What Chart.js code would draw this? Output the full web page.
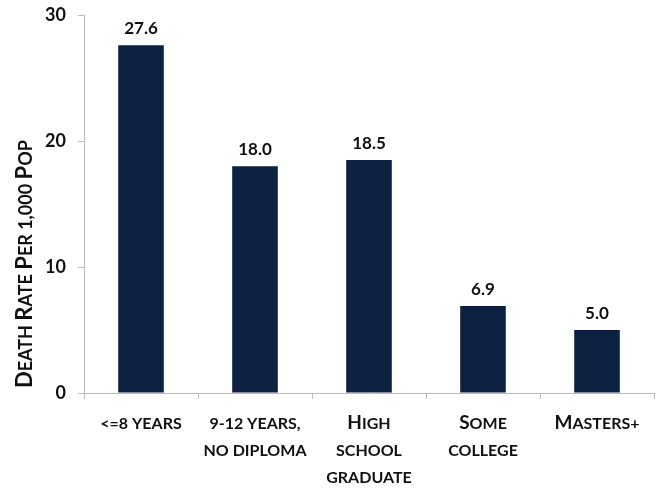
<!DOCTYPE html>
<html>
<head>
<meta charset="utf-8">
<script src="https://cdn.jsdelivr.net/npm/chart.js@4.4.1/dist/chart.umd.min.js"></script>
<style>
  html, body { margin: 0; padding: 0; background: #ffffff; }
  #wrap { width: 666px; height: 489px; position: relative; }
</style>
</head>
<body>
<div id="wrap"><canvas id="deathChart"></canvas></div>
<script>
// education level categories (multi-line labels)
const categories = [
  ['<=8 years'],
  ['9-12 years,', 'no diploma'],
  ['High', 'school', 'graduate'],
  ['Some', 'college'],
  ['Masters+']
];
const deathRates = [27.6, 18.0, 18.5, 6.9, 5.0];
const yTicks = [0, 10, 20, 30];
const yTitle = 'Death Rate Per 1,000 Pop';

const navy = '#0c2040';
const axisGray = '#bdbdbd';
const inkColor = '#111111';
const fontFamily = 'Lato, "Open Sans", sans-serif';

// split text into runs: capitals stay full size, everything else is set as smaller capitals
function smallCapRuns(text) {
  const runs = [];
  for (const ch of text) {
    const big = ch !== ch.toLowerCase();
    const last = runs[runs.length - 1];
    if (last && last.big === big) last.text += ch.toUpperCase();
    else runs.push({ big, text: ch.toUpperCase() });
  }
  return runs;
}

// draws centred small-caps text on the given baseline (in current ctx transform)
function drawSmallCaps(ctx, text, cx, baseline, bigSize, smallSize) {
  const runs = smallCapRuns(text);
  let total = 0;
  runs.forEach(r => {
    ctx.font = '700 ' + (r.big ? bigSize : smallSize) + 'px ' + fontFamily;
    r.width = ctx.measureText(r.text).width;
    total += r.width;
  });
  let x = cx - total / 2;
  runs.forEach(r => {
    ctx.font = '700 ' + (r.big ? bigSize : smallSize) + 'px ' + fontFamily;
    ctx.fillText(r.text, x, baseline);
    x += r.width;
  });
  return total;
}

// category labels, axis title and value labels
const chartText = {
  id: 'chartText',
  afterDraw(chart) {
    const ctx = chart.ctx;
    const area = chart.chartArea;
    const xScale = chart.scales.x;
    ctx.save();
    ctx.fillStyle = inkColor;
    ctx.textAlign = 'left';
    ctx.textBaseline = 'alphabetic';

    categories.forEach((lines, i) => {
      const cx = xScale.getPixelForTick(i);
      lines.forEach((line, j) => {
        drawSmallCaps(ctx, line, cx, area.bottom + 36 + j * 27, 19, 16);
      });
    });

    // rotated axis title, laid out from the bottom of the axis upwards
    ctx.save();
    ctx.translate(32, area.bottom);
    ctx.rotate(-Math.PI / 2);
    const runs = smallCapRuns(yTitle);
    let x = 5;
    runs.forEach(r => {
      ctx.font = '700 ' + (r.big ? 22 : 18) + 'px ' + fontFamily;
      ctx.fillText(r.text, x, 0);
      x += ctx.measureText(r.text).width;
    });
    ctx.restore();

    // value above each bar
    ctx.font = '700 17px ' + fontFamily;
    ctx.textAlign = 'center';
    ctx.textBaseline = 'bottom';
    chart.getDatasetMeta(0).data.forEach((bar, i) => {
      ctx.fillText(deathRates[i].toFixed(1), bar.x, bar.y - 8);
    });
    ctx.restore();
  }
};

new Chart(document.getElementById('deathChart'), {
  type: 'bar',
  data: {
    labels: categories.map(l => l.join(' ')),
    datasets: [{
      data: deathRates,
      backgroundColor: navy,
      borderWidth: 0,
      categoryPercentage: 1,
      barPercentage: 0.4
    }]
  },
  options: {
    responsive: true,
    maintainAspectRatio: false,
    animation: false,
    layout: { padding: { top: 15, right: 12, left: 0, bottom: 0 } },
    plugins: {
      legend: { display: false },
      tooltip: { enabled: false }
    },
    scales: {
      x: {
        grid: { drawOnChartArea: false, tickLength: 6, color: axisGray, offset: true },
        border: { color: axisGray },
        ticks: { display: false },
        afterFit(scale) { scale.height = 96; }
      },
      y: {
        min: 0,
        max: 30,
        afterBuildTicks(scale) {
          scale.ticks = yTicks.map(v => ({ value: v }));
        },
        afterFit(scale) {
          scale.width = 84;
          scale.paddingTop = 0;
          scale.paddingBottom = 0;
        },
        grid: { drawOnChartArea: false, tickLength: 6, color: axisGray },
        border: { color: axisGray },
        ticks: {
          color: inkColor,
          padding: 12,
          font: { family: fontFamily, size: 18, weight: '700' }
        }
      }
    }
  },
  plugins: [chartText]
});
</script>
</body>
</html>
